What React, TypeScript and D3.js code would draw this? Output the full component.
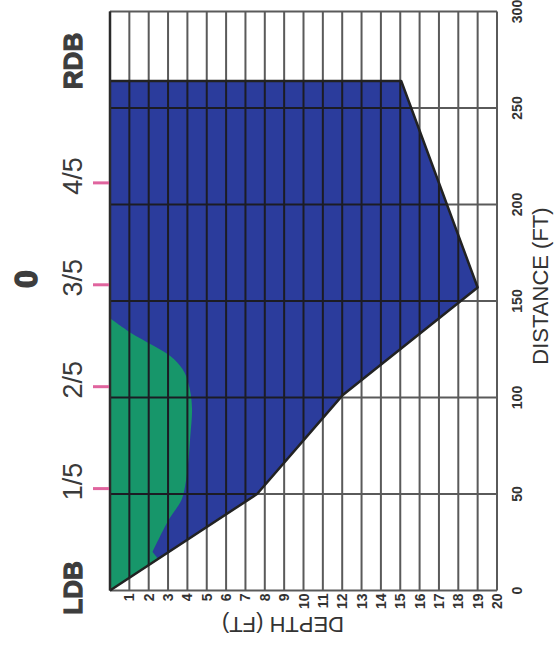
import React from "react";
import * as d3 from "d3";

// ---- data ----
const title = "0";
const depthTicks = [1, 2, 3, 4, 5, 6, 7, 8, 9, 10, 11, 12, 13, 14, 15, 16, 17, 18, 19, 20];
const distanceTicks = [0, 50, 100, 150, 200, 250, 300];
const waterWidth = 264; // RDB distance (ft)
// cross-section bed profile: distance (ft) and depth (ft)
const profileDistance = [0, 50, 101, 157, 264];
const profileDepth = [0, 7.6, 12, 19, 15.05];
// green (high-velocity) zone boundary
const greenDistance = [141, 134, 126.5, 120, 113, 104, 94, 80, 65, 54, 47, 36, 20, 10, 0, -5, -5];
const greenDepth = [0, 1.0, 2.3, 3.3, 3.85, 4.13, 4.24, 4.15, 4.03, 3.88, 3.7, 3.0, 2.2, 3, 3, 3, 0];
const fractionLabels = ["1/5", "2/5", "3/5", "4/5"];
const fractionValues = [0.2, 0.4, 0.6, 0.8];
const bankLabels = ["LDB", "RDB"];

const W = 556;
const H = 651;

export default function App() {
  const x = d3.scaleLinear().domain([0, 20]).range([110, 497]);
  const y = d3.scaleLinear().domain([0, 300]).range([590.5, 11.5]);

  const profilePts: [number, number][] = profileDistance.map((d, i) => [x(profileDepth[i]), y(d)]);
  const polyPts: [number, number][] = [...profilePts, [x(0), y(waterWidth)]];
  const polyPath = "M" + polyPts.map((p) => p.join(",")).join("L") + "Z";

  const greenPts: [number, number][] = greenDistance.map((d, i) => [x(greenDepth[i]), y(d)]);
  const greenLine = d3
    .line<[number, number]>()
    .x((p) => p[0])
    .y((p) => p[1])
    .curve(d3.curveCatmullRom.alpha(0.5));
  const greenPath = greenLine(greenPts.slice(0, 13))! +
    greenPts.slice(13).map((p) => "L" + p.join(",")).join("") + "Z";

  const outlinePath =
    "M" + x(0) + "," + y(waterWidth) + "L" + profilePts.slice().reverse().map((p) => p.join(",")).join("L");

  const vLines = [0, ...depthTicks];
  const hLines = distanceTicks;

  const gridGray = "#5a5a5a";
  const gridDark = "#1c1c24";
  const blue = "#2b3c9c";
  const green = "#17966a";

  return (
    <svg width={W} height={H} style={{ position: "absolute", left: 0, top: 0, background: "#fff" }}>
      <defs>
        <clipPath id="water">
          <path d={polyPath} />
        </clipPath>
      </defs>

      {/* light grid everywhere */}
      <g>
        {vLines.map((v) => (
          <line key={"v" + v} x1={x(v)} x2={x(v)} y1={y(300)} y2={y(0)} stroke={gridGray} strokeWidth={2} />
        ))}
        {hLines.map((h) => (
          <line key={"h" + h} x1={x(0)} x2={x(20)} y1={y(h)} y2={y(h)} stroke={gridGray} strokeWidth={2} />
        ))}
      </g>

      {/* water fill */}
      <path d={polyPath} fill={blue} />
      <path d={greenPath} fill={green} clipPath="url(#water)" />

      {/* dark grid inside water */}
      <g clipPath="url(#water)">
        {vLines.map((v) => (
          <line key={"dv" + v} x1={x(v)} x2={x(v)} y1={y(300)} y2={y(0)} stroke={gridDark} strokeWidth={2} />
        ))}
        {hLines.map((h) => (
          <line key={"dh" + h} x1={x(0)} x2={x(20)} y1={y(h)} y2={y(h)} stroke={gridDark} strokeWidth={2} />
        ))}
      </g>

      {/* outline */}
      <path d={outlinePath} fill="none" stroke="#222" strokeWidth={2.5} strokeLinejoin="round" />
      <line x1={x(0)} x2={x(0)} y1={y(300)} y2={y(0)} stroke="#2a2a2a" strokeWidth={2.5} />

      {/* depth tick labels */}
      {depthTicks.map((t) => (
        <text
          key={"dt" + t}
          transform={`translate(${x(t)},${y(0) + 3}) rotate(-90)`}
          textAnchor="end"
          dominantBaseline="central"
          fontFamily="Liberation Sans, Arial, sans-serif"
          fontWeight="bold"
          fontSize={14}
          fill="#333"
        >
          {t}
        </text>
      ))}
      <text
        transform={`translate(283,624) rotate(180)`}
        textAnchor="middle"
        dominantBaseline="central"
        fontFamily="Liberation Sans, Arial, sans-serif"
        fontSize={22}
        fill="#333"
      >
        DEPTH (FT)
      </text>

      {/* distance tick labels */}
      {distanceTicks.map((t) => (
        <text
          key={"st" + t}
          transform={`translate(517,${y(t)}) rotate(-90)`}
          textAnchor="middle"
          dominantBaseline="central"
          fontFamily="Liberation Sans, Arial, sans-serif"
          fontWeight="bold"
          fontSize={14}
          fill="#333"
        >
          {t}
        </text>
      ))}
      <text
        transform={`translate(540,286) rotate(-90)`}
        textAnchor="middle"
        dominantBaseline="central"
        fontFamily="Liberation Sans, Arial, sans-serif"
        fontSize={22}
        fill="#333"
      >
        DISTANCE (FT)
      </text>

      {/* fraction ticks and labels */}
      {fractionValues.map((f, i) => (
        <g key={"f" + i}>
          <line x1={93} x2={109} y1={y(f * waterWidth)} y2={y(f * waterWidth)} stroke="#e0649e" strokeWidth={3} />
          <text
            transform={`translate(73,${y(f * waterWidth) - 7}) rotate(-90)`}
            textAnchor="middle"
            dominantBaseline="central"
            fontFamily="Liberation Sans, Arial, sans-serif"
            fontSize={27}
            fill="#3a3a3a"
          >
            {fractionLabels[i]}
          </text>
        </g>
      ))}

      {/* bank labels */}
      {bankLabels.map((b, i) => (
        <text
          key={b}
          transform={`translate(72.5,${i === 0 ? 588 : 61}) rotate(-90)`}
          textAnchor="middle"
          dominantBaseline="central"
          fontFamily="Liberation Sans, Arial, sans-serif"
          fontWeight="bold"
          fontSize={26}
          fill="#3d3d3d"
          stroke="#3d3d3d"
          strokeWidth={1.2}
        >
          {b}
        </text>
      ))}

      {/* title */}
      <text
        transform={`translate(26,279) rotate(-90)`}
        textAnchor="middle"
        dominantBaseline="central"
        fontFamily="Liberation Sans, Arial, sans-serif"
        fontWeight="bold"
        fontSize={32}
        fill="#3d3d3d"
        stroke="#3d3d3d"
        strokeWidth={1.5}
      >
        {title}
      </text>
    </svg>
  );
}
